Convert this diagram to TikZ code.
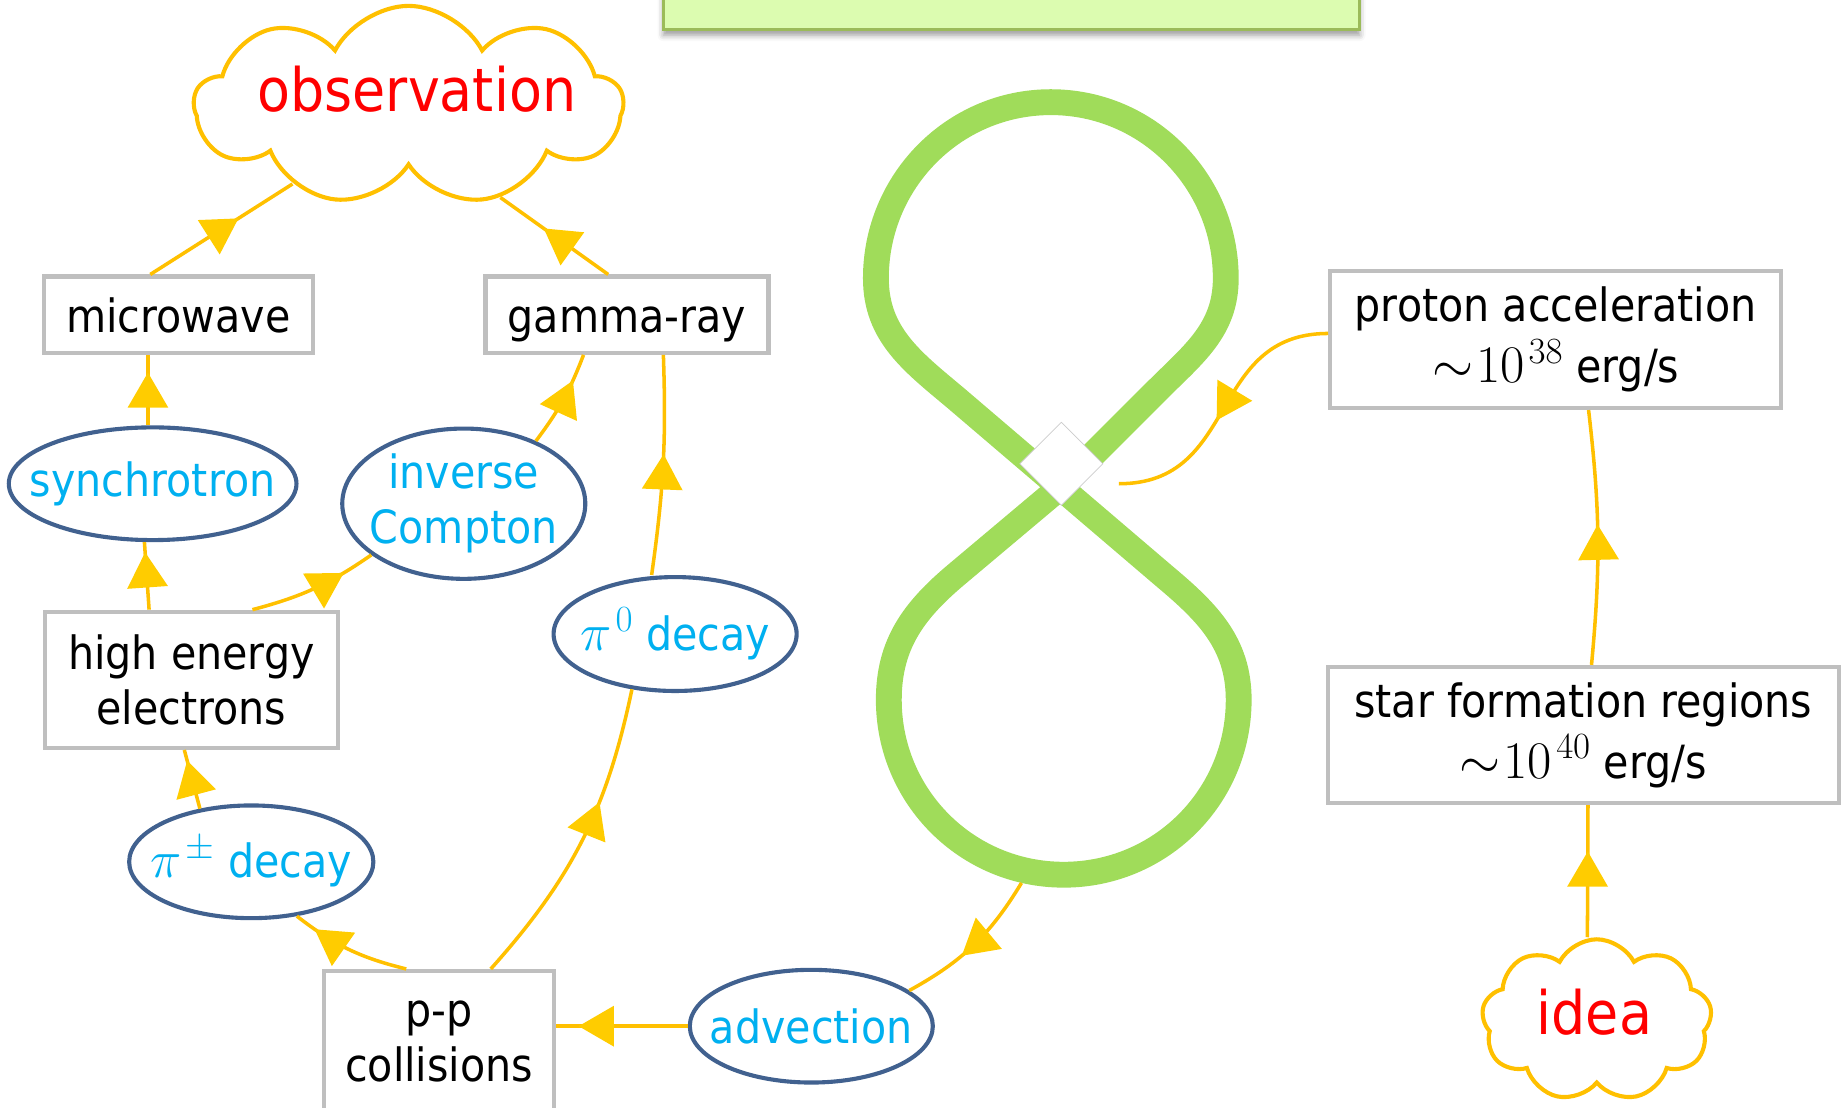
\documentclass[tikz,border=0pt]{standalone}
\usepackage{fix-cm}
\usepackage{amsmath,amssymb}
\usepackage{fontspec}
\setmainfont{DejaVu Sans}[FakeStretch=0.9]
\usetikzlibrary{shapes.geometric,shapes.symbols,arrows.meta,decorations.markings,shadows.blur}

\definecolor{gold}{HTML}{FFC000}
\definecolor{tipgold}{HTML}{FFCC00}
\definecolor{boxgray}{HTML}{BFBFBF}
\definecolor{ellblue}{HTML}{41618F}
\definecolor{skyblue}{HTML}{00B0F0}
\definecolor{loopgreen}{HTML}{A0DC5A}
\definecolor{titlefill}{HTML}{DCFCB0}
\definecolor{titleline}{HTML}{9BBB59}

\newcommand{\boxfont}{\fontsize{39}{47}\selectfont}
\newcommand{\cloudfont}{\fontsize{51}{60}\selectfont}
\newcommand{\bigmath}[1]{{\fontsize{45}{47}\selectfont$#1$}}

\tikzset{
  stage/.style={draw=boxgray, line width=3.5pt, fill=white, inner sep=0pt, align=center, font=\boxfont},
  oneline/.style={text height=30pt, text depth=0pt},
  process/.style={ellipse, draw=ellblue, line width=3.5pt, fill=white, inner sep=0pt},
  processtext/.style={text=skyblue, font=\boxfont, align=center},
  puff/.style={cloud, cloud puffs=9, cloud puff arc=125, cloud ignores aspect, draw=gold, line width=3.5pt, fill=white},
  pufftext/.style={text=red, font=\cloudfont},
  flow/.style={draw=gold, line width=3pt, postaction={decorate},
    decoration={markings, mark=at position #1 with {\arrow{Triangle[length=30pt,width=34pt,color=tipgold]}}}},
  flow/.default=0.5,
}

\begin{document}
\begin{tikzpicture}[x=1pt,y=1pt]
    \useasboundingbox (0,0) rectangle (1568,-943);
    % title bar, cut by the page edge
    \node[draw=titleline, fill=titlefill, line width=2pt, minimum width=593pt, minimum height=80pt,
      blur shadow={shadow xshift=0pt, shadow yshift=-5pt, shadow blur radius=5pt}] (title) at (861.5,15) {};

    % the figure eight
    \coordinate (cross) at (903,-415);
    \draw[loopgreen, line width=22pt, line join=round] (cross) -- (814,-339) to[out=140,in=-90] (746,-237)
      to[out=90,in=180] (895,-87) to[out=0,in=90] (1044,-237) to[out=-90,in=45] (985,-333) -- (cross)
      -- (815,-489) to[out=220,in=90] (757,-596) to[out=-90,in=180] (906,-745)
      to[out=0,in=-90] (1055,-596) to[out=90,in=-40] (992,-491) -- cycle;
    \node[draw=black!20, fill=white, line width=0.6pt, minimum size=50pt, rotate=45, inner sep=0pt] (knot) at (904,-395) {};
    \coordinate (eightfoot) at (870,-752);
    \coordinate (eightwaist) at (953,-412);

    % clouds
    \node[puff, minimum width=365pt, minimum height=170pt,
      label={[pufftext, xshift=7pt, yshift=14pt]center:observation}] (obs) at (348,-90) {};
    \node[puff, minimum width=196pt, minimum height=138pt,
      label={[pufftext, xshift=-2pt, yshift=7pt]center:idea}] (idea) at (1360,-869) {};

    % boxes
    \node[stage, oneline, minimum width=229pt, minimum height=65pt] (micro) at (152,-268) {microwave};
    \node[stage, oneline, minimum width=241pt, minimum height=65pt] (gamma) at (534,-268) {gamma-ray};
    \node[stage, minimum width=250pt, minimum height=116pt] (hee) at (163,-579) {high energy\\electrons};
    \node[stage, minimum width=196pt, minimum height=120pt] (pp) at (374,-887) {p-p\\collisions};
    \node[stage, minimum width=384pt, minimum height=117pt] (prot) at (1325,-289) {proton acceleration\\[5pt]\bigmath{{\sim}\mkern1mu 10^{\mkern2mu 38}} erg/s};
    \node[stage, minimum width=435pt, minimum height=116pt] (sfr) at (1348.5,-626) {star formation regions\\[5pt]\bigmath{{\sim}\mkern1mu 10^{\mkern2mu 40}} erg/s};

    % processes
    \node[process, minimum width=245pt, minimum height=96pt, label={[processtext]center:synchrotron}] (synch) at (130,-412) {};
    \node[process, minimum width=207pt, minimum height=128pt, label={[processtext]center:inverse\\Compton}] (icomp) at (395,-429) {};
    \node[process, minimum width=207pt, minimum height=97pt, label={[processtext]center:\bigmath{\pi^{\mkern2mu 0}} decay}] (pizero) at (575,-540) {};
    \node[process, minimum width=208pt, minimum height=96pt, label={[processtext]center:\bigmath{\pi^{\mkern2mu\pm}} decay}] (pipm) at (214,-734) {};
    \node[process, minimum width=207pt, minimum height=96pt, label={[processtext]center:advection}] (adv) at (691,-874) {};

    % connectors
    \draw[flow=0.62] ([xshift=-24pt]micro.north) -- (obs.214);
    \draw[flow=0.6] ([xshift=-16pt]gamma.north) -- (obs.-45);
    \draw[flow=0.75] ([xshift=-4pt]synch.north) -- ([xshift=-26pt]micro.south);
    \draw[flow=0.72] (icomp.41) to[bend right=8] ([xshift=-37pt]gamma.south);
    \draw[flow=0.55] ([xshift=-20pt]pizero.north) to[bend right=5] ([xshift=31pt]gamma.south);
    \draw[flow=0.85] ([xshift=-36pt]hee.north) -- ([xshift=-7pt]synch.south);
    \draw[flow=0.75] ([xshift=52pt]hee.north) to[bend right=10] (icomp.209);
    \draw[flow=0.82] (pipm.134) -- ([xshift=-6pt]hee.south);
    \draw[flow=0.82] ([xshift=-28pt]pp.north) to[bend left=12] (pipm.310);
    \draw[flow=0.63] ([xshift=44pt]pp.north) to[bend right=15] (pizero.232);
    \draw[flow=0.83] (adv.west) -- (adv.west -| pp.east);
    \draw[flow=0.6] (eightfoot) to[bend left=15] (adv.20);
    \draw[flow=0.55] ([yshift=5pt]prot.west) to[out=180,in=0,looseness=1.2] (eightwaist);
    \draw[flow=0.55] ([xshift=7pt]sfr.north) to[bend right=6] ([xshift=28pt]prot.south);
    \draw[flow=0.65] ([xshift=-8pt]idea.north) -- ([xshift=4pt]sfr.south);
\end{tikzpicture}
\end{document}
